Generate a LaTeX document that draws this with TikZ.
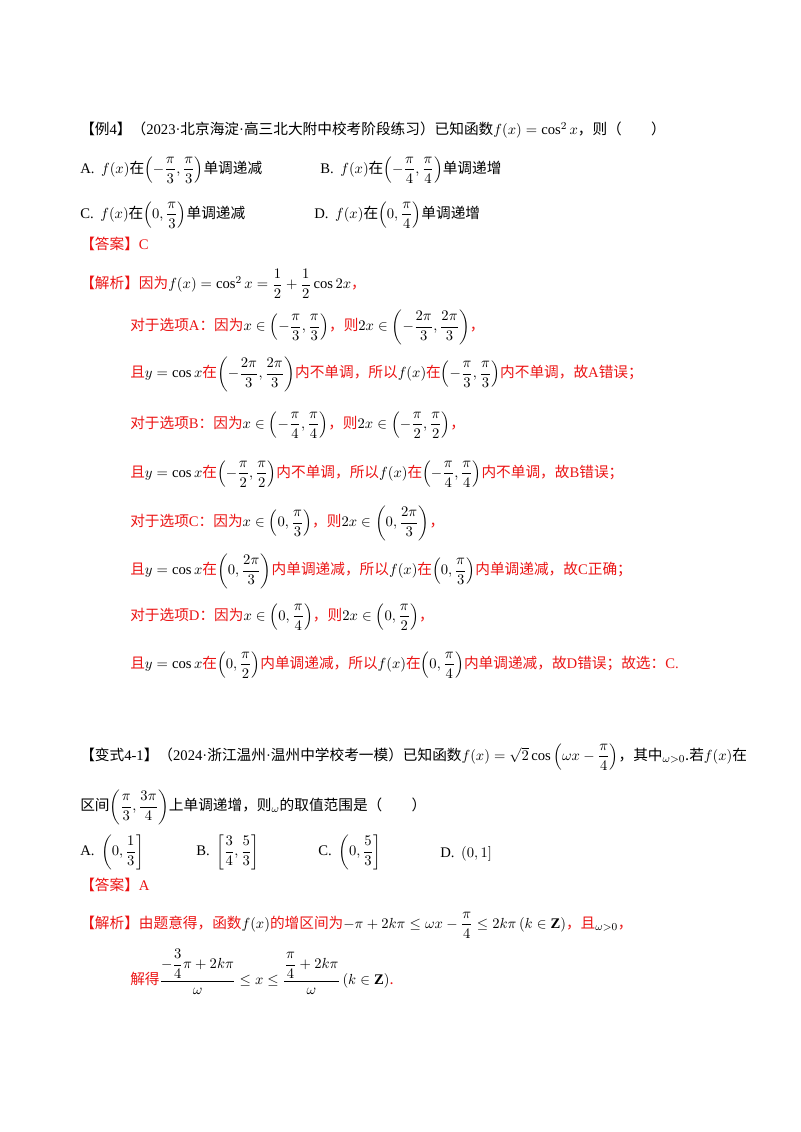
\documentclass[tikz,border=0pt]{standalone}
\usepackage{amsmath}
\usepackage{fontspec}
\setmainfont{Noto Sans CJK SC}
\setmathrm{Liberation Serif}
\newfontfamily\lat{Liberation Serif}
\definecolor{rd}{RGB}{235,20,20}
\newcommand{\dfr}[2]{\dfrac{#1}{#2}}
\begin{document}
\begin{tikzpicture}[x=0.75pt,y=-0.75pt,
  t/.style={anchor=west,inner sep=0pt,font=\fontsize{11}{13}\selectfont},
  r/.style={t,text=rd}]
\useasboundingbox (0,0) rectangle (800,1132);
\node[t] (l1) at (80,130) {【例{\lat 4}】（{\lat 2023·}北京海淀{\lat ·}高三北大附中校考阶段练习）已知函数$f(x)=\cos^2x$，则（\qquad）};
\node[t] (a1) at (80,170) {{\lat A.} \ $f(x)$在$\left(-\dfr{\pi}{3},\dfr{\pi}{3}\right)$单调递减};
\node[t] (b1) at (320,170) {{\lat B.} \ $f(x)$在$\left(-\dfr{\pi}{4},\dfr{\pi}{4}\right)$单调递增};
\node[t] (c1) at (80,215) {{\lat C.} \ $f(x)$在$\left(0,\dfr{\pi}{3}\right)$单调递减};
\node[t] (d1) at (314,215) {{\lat D.} \ $f(x)$在$\left(0,\dfr{\pi}{4}\right)$单调递增};
\node[r] (ans1) at (80,244) {【答案】{\lat C}};
\node[r] (j0) at (80,284) {【解析】因为\textcolor{black}{$f(x)=\cos^2x=\dfr12+\dfr12\cos2x$}，};
\node[r] (j1) at (130,327) {对于选项{\lat A}：因为\textcolor{black}{$x\in\left(-\dfr{\pi}{3},\dfr{\pi}{3}\right)$}，则\textcolor{black}{$2x\in\left(-\dfr{2\pi}{3},\dfr{2\pi}{3}\right)$}，};
\node[r] (j2) at (130,374) {且\textcolor{black}{$y=\cos x$}在\textcolor{black}{$\left(-\dfr{2\pi}{3},\dfr{2\pi}{3}\right)$}内不单调，所以\textcolor{black}{$f(x)$}在\textcolor{black}{$\left(-\dfr{\pi}{3},\dfr{\pi}{3}\right)$}内不单调，故{\lat A}错误；};
\node[r] (j3) at (130,425) {对于选项{\lat B}：因为\textcolor{black}{$x\in\left(-\dfr{\pi}{4},\dfr{\pi}{4}\right)$}，则\textcolor{black}{$2x\in\left(-\dfr{\pi}{2},\dfr{\pi}{2}\right)$}，};
\node[r] (j4) at (130,474) {且\textcolor{black}{$y=\cos x$}在\textcolor{black}{$\left(-\dfr{\pi}{2},\dfr{\pi}{2}\right)$}内不单调，所以\textcolor{black}{$f(x)$}在\textcolor{black}{$\left(-\dfr{\pi}{4},\dfr{\pi}{4}\right)$}内不单调，故{\lat B}错误；};
\node[r] (j5) at (130,523) {对于选项{\lat C}：因为\textcolor{black}{$x\in\left(0,\dfr{\pi}{3}\right)$}，则\textcolor{black}{$2x\in\left(0,\dfr{2\pi}{3}\right)$}，};
\node[r] (j6) at (130,571) {且\textcolor{black}{$y=\cos x$}在\textcolor{black}{$\left(0,\dfr{2\pi}{3}\right)$}内单调递减，所以\textcolor{black}{$f(x)$}在\textcolor{black}{$\left(0,\dfr{\pi}{3}\right)$}内单调递减，故{\lat C}正确；};
\node[r] (j7) at (130,617) {对于选项{\lat D}：因为\textcolor{black}{$x\in\left(0,\dfr{\pi}{4}\right)$}，则\textcolor{black}{$2x\in\left(0,\dfr{\pi}{2}\right)$}，};
\node[r] (j8) at (130,665) {且\textcolor{black}{$y=\cos x$}在\textcolor{black}{$\left(0,\dfr{\pi}{2}\right)$}内单调递减，所以\textcolor{black}{$f(x)$}在\textcolor{black}{$\left(0,\dfr{\pi}{4}\right)$}内单调递减，故{\lat D}错误；故选：{\lat C.}};
\node[t] (l2) at (80,757) {【变式{\lat 4-1}】（{\lat 2024·}浙江温州{\lat ·}温州中学校考一模）已知函数$f(x)=\sqrt2\cos\left(\omega x-\dfr{\pi}{4}\right)$，其中$_{\omega>0}$.若$f(x)$在};
\node[t] (l3) at (80,807) {区间$\left(\dfr{\pi}{3},\dfr{3\pi}{4}\right)$上单调递增，则$_{\omega}$的取值范围是（\qquad）};
\node[t] (a2) at (80,852) {{\lat A.} \ $\left(0,\dfr13\right]$};
\node[t] (b2) at (196,852) {{\lat B.} \ $\left[\dfr34,\dfr53\right]$};
\node[t] (c2) at (318,852) {{\lat C.} \ $\left(0,\dfr53\right]$};
\node[t] (d2) at (440,854) {{\lat D.} \ $(0,1]$};
\node[r] (ans2) at (80,885) {【答案】{\lat A}};
\node[r] (k0) at (80,925) {【解析】由题意得，函数\textcolor{black}{$f(x)$}的增区间为\textcolor{black}{$-\pi+2k\pi\le\omega x-\dfr{\pi}{4}\le2k\pi\,(k\in\mathbf Z)$}，且\textcolor{black}{$_{\omega>0}$}，};
\node[r] (k1) at (130,972) {解得\textcolor{black}{$\dfrac{-\dfrac34\pi+2k\pi}{\omega}\le x\le\dfrac{\dfrac{\pi}{4}+2k\pi}{\omega}\,(k\in\mathbf Z)$}.};
\end{tikzpicture}
\end{document}
